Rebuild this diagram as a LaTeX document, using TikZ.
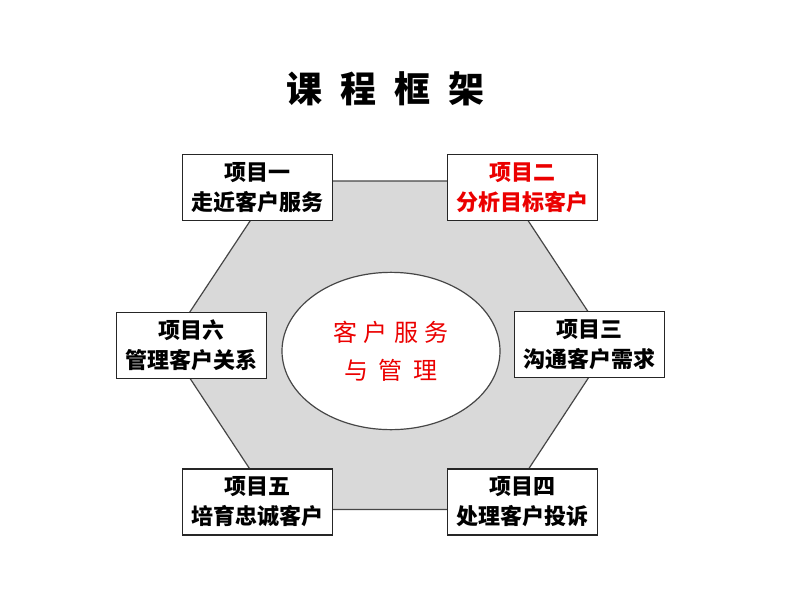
\documentclass[tikz,border=0pt]{standalone}
\usepackage{fontspec}
\newfontfamily\cjk{Noto Sans CJK SC}
\usetikzlibrary{shapes.geometric}
\definecolor{hexfill}{RGB}{217,217,217}
\definecolor{hexedge}{RGB}{70,70,70}
\definecolor{redtxt}{RGB}{235,0,0}
\begin{document}
\begin{tikzpicture}[x=0.75pt,y=-0.75pt,
  box/.style={draw=black!85, line width=0.9pt, fill=white,
    minimum width=112.5pt, minimum height=49.5pt, inner sep=0pt, align=center,
    font=\cjk\bfseries\fontsize{16.5}{22.5}\selectfont},
  hexline/.style={draw=hexedge, line width=0.9pt},
  hub/.style={ellipse, draw=hexedge, line width=0.9pt, fill=white,
    minimum width=163.5pt, minimum height=118pt, inner sep=0pt, align=center,
    text=redtxt, font=\cjk\fontsize{18}{28.5}\selectfont},
  titlestyle/.style={font=\cjk\bfseries\fontsize{27}{30}\selectfont, inner sep=0pt}]
\useasboundingbox (0,0) rectangle (800,600);
% hexagon
\coordinate (h1) at (276.5,181);
\coordinate (h2) at (502,181);
\coordinate (h3) at (610,345);
\coordinate (h4) at (502,509.5);
\coordinate (h5) at (276.5,509.5);
\coordinate (h6) at (168,345);
\path[fill=hexfill, hexline] (h1) -- (h2) -- (h3) -- (h4) -- (h5) -- (h6) -- cycle;
% title
\node[titlestyle] (title) at (385,89) {课\hspace{13.5pt}程\hspace{13.5pt}框\hspace{13.5pt}架};
% centre
\node[hub] (hubnode) at (391,351) {客\hspace{5pt}户\hspace{5pt}服\hspace{5pt}务\\与\hspace{8pt}管\hspace{8pt}理};
% boxes
\node[box] (p1) at (257.5,187.5) {项目一\\走近客户服务};
\node[box, text=redtxt] (p2) at (522.5,187.5) {项目二\\分析目标客户};
\node[box] (p3) at (589.5,344.5) {项目三\\沟通客户需求};
\node[box] (p4) at (522.5,502) {项目四\\处理客户投诉};
\node[box] (p5) at (257.5,502) {项目五\\培育忠诚客户};
\node[box] (p6) at (191.5,345.5) {项目六\\管理客户关系};
\end{tikzpicture}
\end{document}
